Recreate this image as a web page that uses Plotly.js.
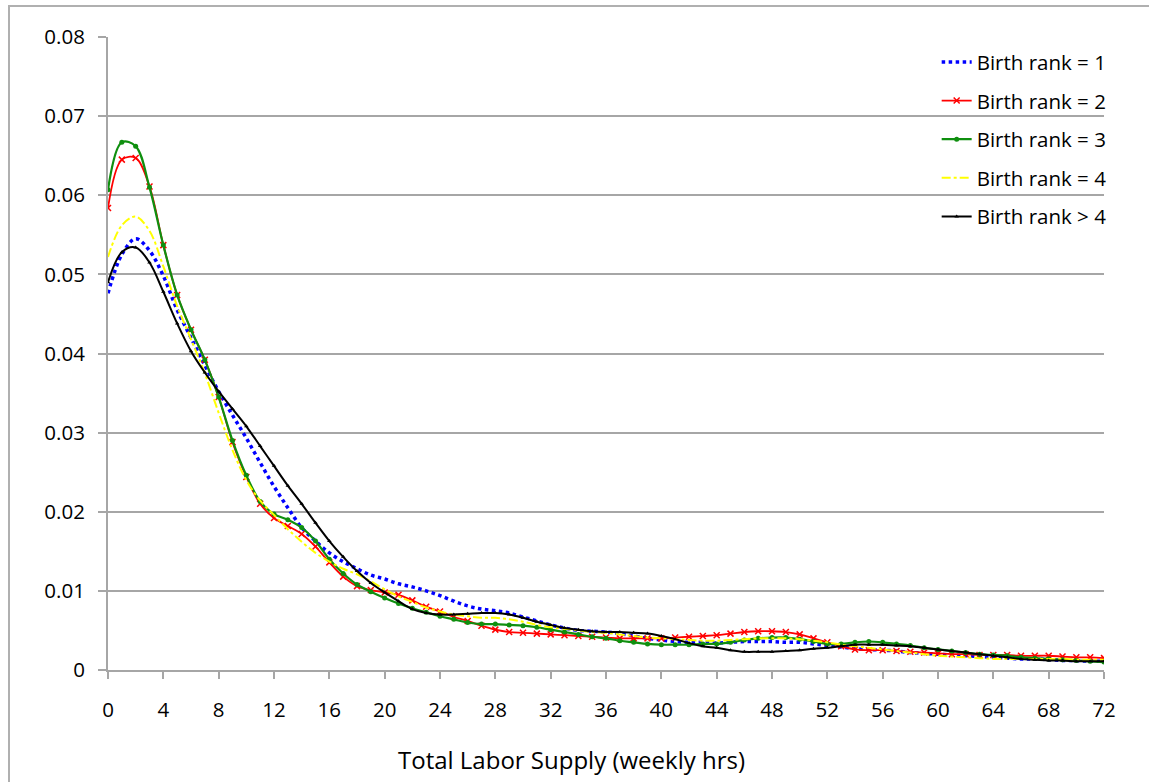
<!DOCTYPE html>
<html>
<head>
<meta charset="utf-8">
<script src="https://cdn.plot.ly/plotly-3.0.1.min.js"></script>
<style>
  html, body { margin: 0; padding: 0; background: #fff; }
  #chart { position: absolute; left: 0; top: 0; width: 1149px; height: 782px; }
  #frame { position: absolute; left: 8px; top: 5px; width: 1300px; height: 900px;
           border-left: 2px solid #b0b0b0; border-top: 2px solid #b0b0b0; pointer-events: none; }
</style>
</head>
<body>
<div id="chart"></div>
<div id="frame"></div>
<script>
// Weekly hours (x) grid
const hours = [];
for (let h = 0; h <= 72; h++) hours.push(h);

const rank1 = [0.0476,0.0525,0.0545,0.0530,0.0498,0.0455,0.0420,0.0385,0.0352,0.0322,0.0293,0.0262,0.0232,0.0205,0.0180,0.0163,0.0148,0.0137,0.0128,0.0120,0.0115,
  0.0109,0.0105,0.0100,0.0094,0.0087,0.0081,0.0077,0.0075,0.0072,0.0067,0.0062,0.0057,0.0053,0.0050,0.0049,0.0048,0.0046,0.0043,0.0040,0.0038,
  0.0036,0.0035,0.0035,0.0034,0.0035,0.0036,0.0036,0.0036,0.0035,0.0035,0.0033,0.0031,0.0029,0.0027,0.0026,0.0025,0.0024,0.0022,0.0021,0.0020,
  0.0019,0.0018,0.0017,0.0016,0.0015,0.0014,0.0014,0.0013,0.0012,0.0012,0.0011,0.0011];

const rank2 = [0.0584,0.0645,0.0647,0.0611,0.0537,0.0474,0.0430,0.0392,0.0345,0.0288,0.0244,0.0210,0.0192,0.0182,0.0172,0.0156,0.0136,0.0118,0.0106,0.0101,0.0098,
  0.0095,0.0088,0.0080,0.0074,0.0067,0.0062,0.0056,0.0051,0.0048,0.0047,0.0046,0.0045,0.0044,0.0043,0.0042,0.0041,0.0040,0.0040,0.0040,0.0040,
  0.0041,0.0042,0.0043,0.0044,0.0046,0.0048,0.0049,0.0049,0.0048,0.0045,0.0040,0.0035,0.0030,0.0026,0.0025,0.0025,0.0024,0.0023,0.0022,0.0021,
  0.0020,0.0020,0.0019,0.0019,0.0019,0.0018,0.0018,0.0018,0.0017,0.0016,0.0016,0.0015];

const rank3 = [0.0607,0.0667,0.0662,0.0610,0.0537,0.0474,0.0430,0.0392,0.0345,0.0290,0.0246,0.0213,0.0197,0.0190,0.0180,0.0163,0.0140,0.0122,0.0108,0.0099,0.0091,
  0.0084,0.0078,0.0073,0.0068,0.0064,0.0060,0.0058,0.0058,0.0057,0.0056,0.0054,0.0051,0.0048,0.0045,0.0042,0.0040,0.0037,0.0035,0.0033,0.0032,
  0.0032,0.0032,0.0033,0.0033,0.0035,0.0038,0.0040,0.0041,0.0041,0.0039,0.0036,0.0033,0.0033,0.0035,0.0036,0.0035,0.0033,0.0031,0.0028,0.0026,
  0.0024,0.0022,0.0020,0.0019,0.0018,0.0016,0.0015,0.0014,0.0013,0.0012,0.0011,0.0010];

const rank4 = [0.0522,0.0562,0.0573,0.0555,0.0510,0.0460,0.0418,0.0375,0.0325,0.0278,0.0240,0.0214,0.0196,0.0178,0.0162,0.0148,0.0137,0.0128,0.0121,0.0112,0.0102,
  0.0093,0.0086,0.0079,0.0074,0.0070,0.0068,0.0066,0.0066,0.0064,0.0061,0.0057,0.0054,0.0052,0.0050,0.0048,0.0047,0.0045,0.0043,0.0041,0.0040,
  0.0039,0.0038,0.0037,0.0037,0.0038,0.0039,0.0040,0.0040,0.0040,0.0039,0.0037,0.0035,0.0032,0.0030,0.0028,0.0026,0.0024,0.0022,0.0020,0.0018,
  0.0017,0.0016,0.0015,0.0014,0.0014,0.0014,0.0014,0.0014,0.0014,0.0013,0.0013,0.0013];

const rank5plus = [0.0490,0.0528,0.0534,0.0515,0.0478,0.0438,0.0403,0.0376,0.0352,0.0330,0.0308,0.0283,0.0258,0.0233,0.0210,0.0186,0.0163,0.0143,0.0125,0.0110,0.0098,
  0.0087,0.0077,0.0072,0.0070,0.0070,0.0071,0.0072,0.0072,0.0070,0.0066,0.0061,0.0057,0.0053,0.0051,0.0049,0.0048,0.0048,0.0047,0.0046,0.0043,
  0.0039,0.0034,0.0030,0.0028,0.0025,0.0023,0.0023,0.0023,0.0024,0.0025,0.0027,0.0028,0.0030,0.0032,0.0032,0.0032,0.0031,0.0030,0.0028,0.0026,
  0.0024,0.0022,0.0020,0.0018,0.0016,0.0014,0.0013,0.0012,0.0012,0.0011,0.0011,0.0011];

const seriesNames = ["Birth rank = 1","Birth rank = 2","Birth rank = 3","Birth rank = 4","Birth rank > 4"];
const xTicks = [0,4,8,12,16,20,24,28,32,36,40,44,48,52,56,60,64,68,72];
const yTicks = [0,0.01,0.02,0.03,0.04,0.05,0.06,0.07,0.08];
const yTickText = ["0","0.01","0.02","0.03","0.04","0.05","0.06","0.07","0.08"];
const xTitle = "Total Labor Supply (weekly hrs)";

const FONT = "Open Sans, Lato, sans-serif";

const traces = [
  { x: hours, y: rank1, name: seriesNames[0], mode: "lines",
    line: { color: "#0000ff", width: 3.5, dash: "dot", shape: "spline" } },
  { x: hours, y: rank2, name: seriesNames[1], mode: "lines+markers",
    line: { color: "#ff0000", width: 1.8, shape: "spline" },
    marker: { symbol: "x-thin-open", size: 6, color: "#ff0000", line: { color: "#ff0000", width: 1.5 } } },
  { x: hours, y: rank3, name: seriesNames[2], mode: "lines+markers",
    line: { color: "#0f8f0f", width: 2.2, shape: "spline" },
    marker: { symbol: "circle", size: 5, color: "#0f8f0f" } },
  { x: hours, y: rank4, name: seriesNames[3], mode: "lines",
    line: { color: "#ffff00", width: 2, dash: "dashdot", shape: "spline" } },
  { x: hours, y: rank5plus, name: seriesNames[4], mode: "lines+markers",
    line: { color: "#000000", width: 2, shape: "spline" },
    marker: { symbol: "triangle-up", size: 4, color: "#000000" } }
];
traces.forEach((t, i) => { t.legendgroup = "g" + i; });

const layout = {
  width: 1149, height: 782,
  margin: { l: 108, r: 45, t: 37, b: 112 },
  paper_bgcolor: "rgba(0,0,0,0)",
  plot_bgcolor: "#ffffff",
  font: { family: FONT, size: 20, color: "#000" },
  showlegend: true,
  legend: {
    x: 0.832, y: 0.992, xanchor: "left", yanchor: "top",
    bgcolor: "rgba(255,255,255,0)",
    font: { family: FONT, size: 20.5, color: "#000" },
    traceorder: "grouped", tracegroupgap: 9
  },
  annotations: [{
    text: xTitle, xref: "paper", yref: "paper", x: 0.465, y: -0.142,
    xanchor: "center", yanchor: "middle", showarrow: false,
    font: { family: FONT, size: 24, color: "#000" }
  }],
  xaxis: {
    range: [0, 72], tickvals: xTicks, ticktext: xTicks.map(String),
    showgrid: false, zeroline: false,
    showline: true, linecolor: "#a6a6a6", linewidth: 2,
    ticks: "outside", ticklen: 7, tickwidth: 2, tickcolor: "#a6a6a6",
    tickfont: { family: FONT, size: 20.5, color: "#000" },
    ticklabelstandoff: 13
  },
  yaxis: {
    range: [0, 0.08], tickvals: yTicks, ticktext: yTickText,
    showgrid: true, gridcolor: "#a6a6a6", gridwidth: 2,
    zeroline: false,
    showline: true, linecolor: "#a6a6a6", linewidth: 2,
    ticks: "outside", ticklen: 8, tickwidth: 2, tickcolor: "#a6a6a6",
    tickfont: { family: FONT, size: 20.5, color: "#000" },
    ticklabelstandoff: 9
  }
};

Plotly.newPlot("chart", traces, layout, { displayModeBar: false, staticPlot: true });
</script>
</body>
</html>
